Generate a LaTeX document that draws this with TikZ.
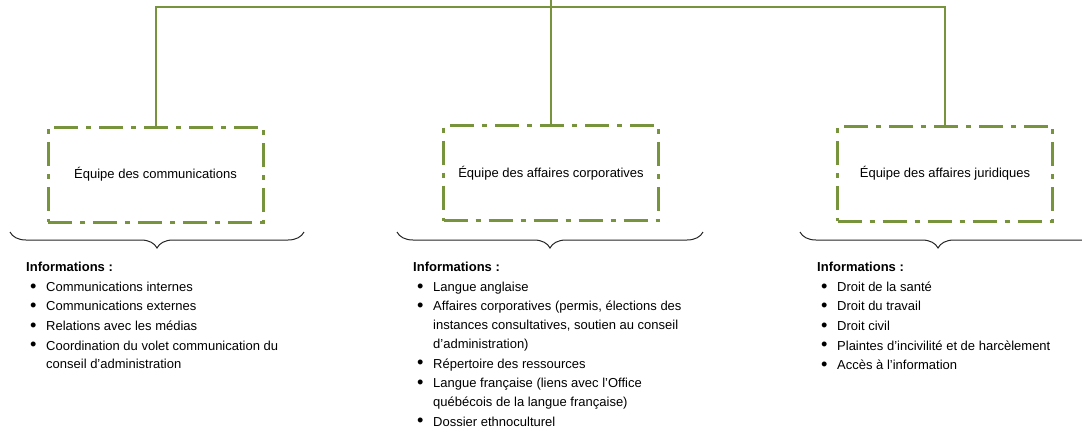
\documentclass[tikz,border=0pt]{standalone}
\usepackage{fontspec}
\setmainfont{Liberation Sans}
\usetikzlibrary{decorations.pathreplacing}
\definecolor{teamgreen}{RGB}{119,147,60}
\newcommand\bul{\makebox[20pt][l]{\hspace{4pt}\raisebox{-0.8pt}{\scalebox{1.4}{\textbullet}}}}
\newcommand\cont{\hspace*{20pt}}
\begin{document}
\begin{tikzpicture}[x=1pt,y=-1pt,
  team/.style={draw=teamgreen, line width=3pt, dash pattern=on 24pt off 8pt on 5pt off 8pt,
    minimum width=215pt, minimum height=95pt, inner sep=0pt, font=\fontsize{13}{15}\selectfont},
  link/.style={draw=teamgreen, line width=2pt},
  info/.style={anchor=north west, inner sep=0pt, align=left, font=\fontsize{13}{18.8}\selectfont},
  bracel/.style={draw=black!85, line width=1pt, decorate, decoration={brace, amplitude=16pt, mirror}}]
\path[use as bounding box] (0,0) rectangle (1082,432);

\node[team] (b1) at (155.5,174.5) {Équipe des communications};
\node[team] (b2) at (551,173) {Équipe des affaires corporatives};
\node[team] (b3) at (945,173.5) {Équipe des affaires juridiques};

\coordinate (top) at (551,0);
\coordinate (bar) at (551,7);
\draw[link] (top) -- (b2.north);
\draw[link] (b1.north) |- (bar) -| (b3.north);

\draw[bracel] (10,232) -- (304,232);
\draw[bracel] (397,232) -- (703,232);
\begin{scope}
\clip (0,0) rectangle (1082,432);
\draw[bracel, decoration={aspect=0.46}] (800,232) -- (1100,232);
\end{scope}

\node[info] (i1) at (26,262) {\textbf{Informations :}\\[0.8pt]
\bul Communications internes\\[0.8pt]
\bul Communications externes\\[0.8pt]
\bul Relations avec les médias\\[0.8pt]
\bul Coordination du volet communication du\\
\cont conseil d’administration};

\node[info] (i2) at (413,262) {\textbf{Informations :}\\[0.8pt]
\bul Langue anglaise\\[0.8pt]
\bul Affaires corporatives (permis, élections des\\
\cont instances consultatives, soutien au conseil\\
\cont d’administration)\\[0.8pt]
\bul Répertoire des ressources\\[0.8pt]
\bul Langue française (liens avec l’Office\\
\cont québécois de la langue française)\\[0.8pt]
\bul Dossier ethnoculturel};

\node[info] (i3) at (817,262) {\textbf{Informations :}\\[0.8pt]
\bul Droit de la santé\\[0.8pt]
\bul Droit du travail\\[0.8pt]
\bul Droit civil\\[0.8pt]
\bul Plaintes d’incivilité et de harcèlement\\[0.8pt]
\bul Accès à l’information};
\end{tikzpicture}
\end{document}
